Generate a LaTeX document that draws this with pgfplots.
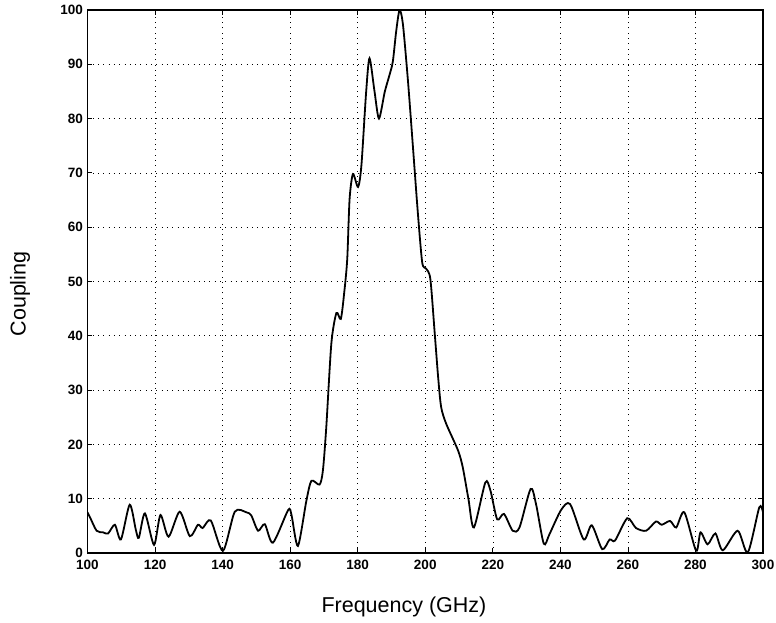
\documentclass[border=0pt]{standalone}
\usepackage{fontspec}
\setmainfont{Liberation Sans}
\usepackage{pgfplots}
\pgfplotsset{compat=1.18}
\begin{document}
\begin{tikzpicture}
\path[use as bounding box] (-87.5pt,-70pt) rectangle (688.5pt,553pt);
\begin{axis}[
  at={(0pt,0pt)}, anchor=south west,
  scale only axis, width=675.5pt, height=543pt,
  xmin=100, xmax=300, ymin=0, ymax=100,
  xtick={100,120,...,300}, ytick={0,10,...,100},
  tick align=inside, xtick pos=both, ytick pos=both,
  major tick length=5pt,
  tick style={black, line width=0.8pt},
  axis line style={line width=1.3pt},
  grid=major,
  major grid style={black, line width=0.6pt, dash pattern=on 0.8pt off 4.5pt},
  /pgf/number format/assume math mode=true,
  /pgf/number format/1000 sep={},
  tick label style={font=\bfseries\fontsize{13.5}{13.5}\selectfont, inner sep=0pt},
  xticklabel style={anchor=north, yshift=-7pt},
  yticklabel style={anchor=east, xshift=-4.5pt},
  xlabel={Frequency (GHz)},
  ylabel={Coupling},
  label style={font=\fontsize{21.5}{21.5}\selectfont},
  xlabel style={at={([yshift=-54pt]axis description cs:0.4685,0)}, anchor=center},
  ylabel style={at={([xshift=-67.5pt]axis description cs:0,0.477)}, anchor=center},
  clip=true,
]
\addplot[black, line width=1.8pt, smooth, tension=0.45] coordinates {
(100,7.5) (100.8,6.5) (102.7,4.1) (104.6,3.8) (106.1,3.6) (108.1,5.2) (109.9,2.5)
(112.5,8.9) (114.3,4.3) (115.2,2.8) (117,7.3) (119.7,1.5) (121.6,7.0) (124,3.0)
(127.3,7.6) (130.3,3.1) (132.7,5.2) (134.1,4.6) (136.5,6.0) (140.1,0.4) (143.6,7.6)
(147,7.5) (148.5,6.9) (150.5,4.1) (152.5,5.3) (154.9,1.9) (159.4,7.9) (160.4,7.0)
(162.3,1.3) (164.8,9.6) (166.3,13.3) (168.7,12.6) (169.7,15.2) (170.7,23.2)
(172.2,38.6) (173.7,44.2) (175,43.1) (176,47.9) (176.9,54.1) (177.6,65.2)
(178.6,69.8) (180.1,67.4) (181.1,71.4) (182.5,84.9) (183.5,91.1) (185,84.9)
(186.3,80) (188,84.9) (189.4,88) (190.4,90.5) (191.4,96.1) (192.4,100) (193.4,97.3)
(194.9,86.8) (196.4,74.4) (197.8,62.7) (199.1,53.5) (200.2,52.4) (201.5,50.5)
(202.8,40.5) (203.8,32.5) (204.7,26.9) (206.2,23.8) (209.7,18.9) (211.1,15.8)
(212.8,9.9) (214.4,4.7) (217.8,13) (219.3,11.5) (221.3,6.2) (223.3,7.2) (225.9,4.1)
(227.9,4.7) (231.2,11.8) (232.8,9) (235.1,1.7) (236.8,3.5) (240.2,7.9) (242.9,9)
(246.9,2.5) (249.3,5.1) (252.4,0.7) (254.6,2.5) (256.2,2.3) (259.8,6.4) (262.4,4.6)
(265.4,4.1) (268.3,5.8) (270,5.2) (272.5,5.9) (274.3,4.7) (276.7,7.5) (280.2,0.4)
(281.5,3.8) (283.6,1.6) (285.9,3.6) (288.1,0.5) (292.5,4.1) (295.5,0.1) (298.9,8.4)
(300,7.5)
};
\end{axis}
\end{tikzpicture}
\end{document}
